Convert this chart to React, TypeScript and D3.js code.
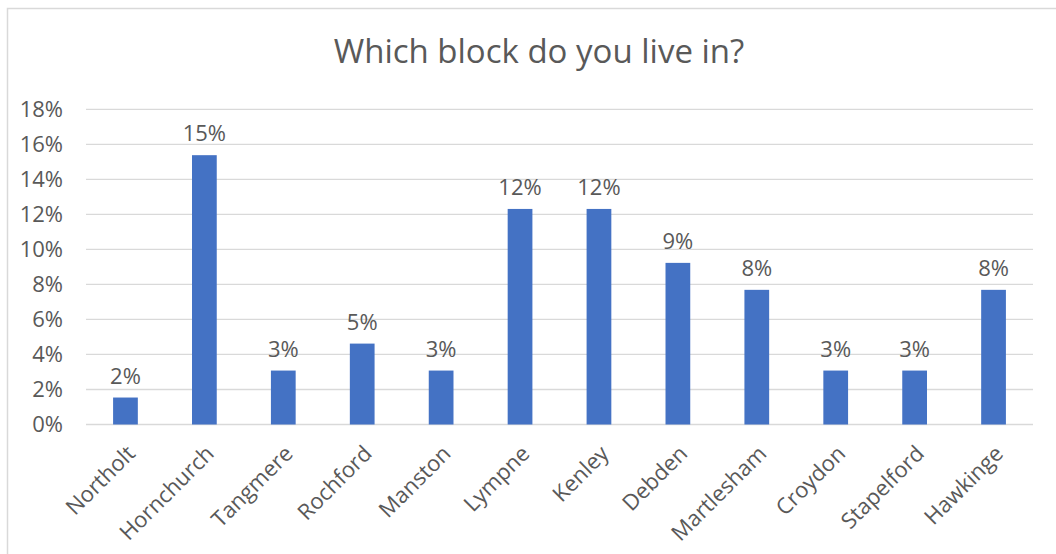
import React from "react";
import * as d3 from "d3";

const categories = ["Northolt", "Hornchurch", "Tangmere", "Rochford", "Manston", "Lympne", "Kenley", "Debden", "Martlesham", "Croydon", "Stapelford", "Hawkinge"];
const values = [1.54, 15.38, 3.08, 4.62, 3.08, 12.31, 12.31, 9.23, 7.69, 3.08, 3.08, 7.69];
const yTicks = [0, 2, 4, 6, 8, 10, 12, 14, 16, 18];
const title = "Which block do you live in?";

const W = 1056;
const H = 554;
const plot = { left: 86, right: 1033, top: 109.3, bottom: 424.5 };
const gapWidth = 2.19;
const font = "'Open Sans', sans-serif";
const textColor = "#595959";
const barColor = "#4472C4";
const gridColor = "#d9d9d9";

export default function App() {
  const x = d3.scaleBand<string>().domain(categories).range([plot.left, plot.right]).padding(0);
  const y = d3.scaleLinear().domain([0, 18]).range([plot.bottom, plot.top]);
  const bw = x.bandwidth() / (1 + gapWidth);
  const fmt = (v: number) => `${Math.round(v)}%`;

  return (
    <svg width={W} height={H} style={{ position: "absolute", left: 0, top: 0, background: "#fff" }} fontFamily={font}>
      <rect x={0} y={0} width={W} height={H} fill="#fff" />
      <rect x={7.5} y={8.5} width={1200} height={700} fill="none" stroke={gridColor} strokeWidth={1.5} />
      <text x={539} y={63} textAnchor="middle" fontSize={33} fill={textColor}>{title}</text>
      {yTicks.map((t) => (
        <g key={t}>
          <line x1={plot.left} x2={plot.right} y1={y(t)} y2={y(t)} stroke={gridColor} strokeWidth={1.3} />
          <text x={63} y={y(t)} dy="0.36em" textAnchor="end" fontSize={22} fill={textColor}>{`${t}%`}</text>
        </g>
      ))}
      {categories.map((c, i) => {
        const cx = (x(c) as number) + x.bandwidth() / 2;
        const v = values[i];
        return (
          <g key={c}>
            <rect x={cx - bw / 2} y={y(v)} width={bw} height={y(0) - y(v)} fill={barColor} />
            <text x={cx} y={y(v) - 14} textAnchor="middle" fontSize={22} fill={textColor}>{fmt(v)}</text>
            <text transform={`translate(${cx + 11},${455}) rotate(-45)`} textAnchor="end" fontSize={22} fill={textColor}>{c}</text>
          </g>
        );
      })}
    </svg>
  );
}
